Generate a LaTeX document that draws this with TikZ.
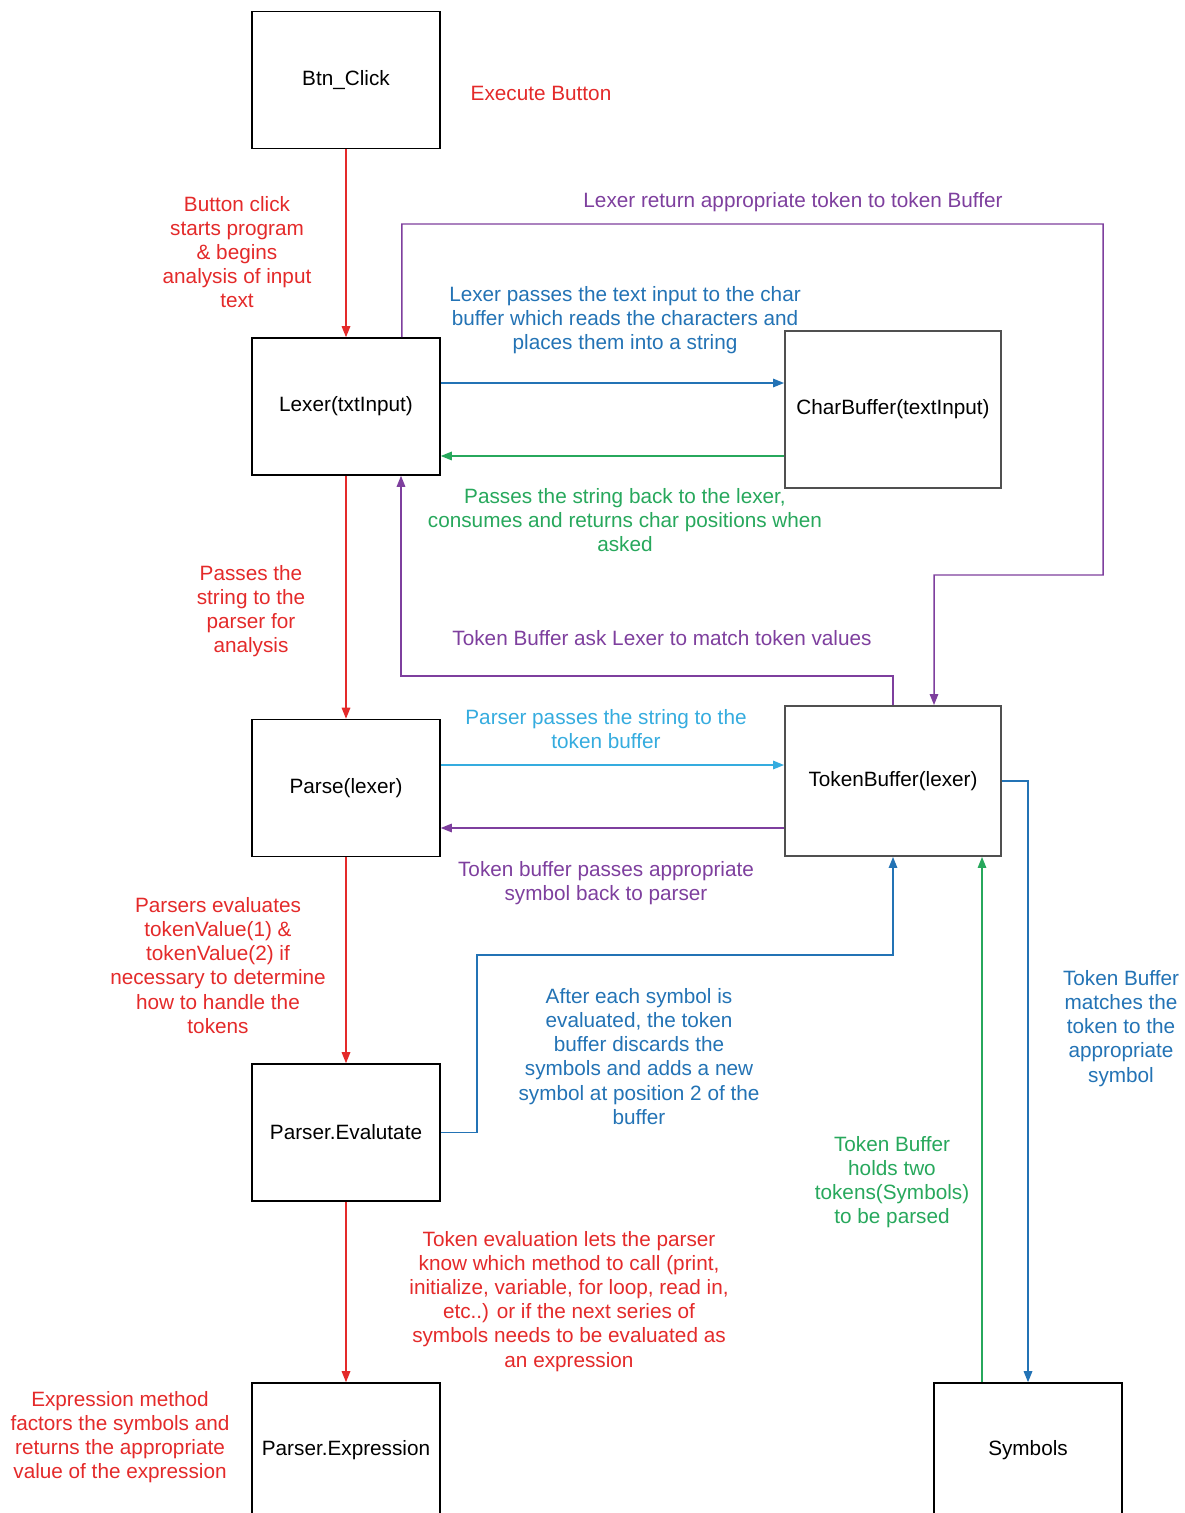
\documentclass[tikz,border=0pt]{standalone}
\usepackage{fontspec}
\setmainfont{Liberation Sans}
\usetikzlibrary{arrows.meta,calc}
\definecolor{cred}{HTML}{E42A2A}
\definecolor{cpurple}{HTML}{7E3F9E}
\definecolor{cblue}{HTML}{2373B5}
\definecolor{clblue}{HTML}{35ACDF}
\definecolor{cgreen}{HTML}{27A85C}
\definecolor{cgrey}{HTML}{505050}
\begin{document}
\begin{tikzpicture}[x=0.02cm,y=-0.02cm,
  font=\fontsize{11.8}{13.7}\selectfont,
  box/.style={draw=black,line width=0.9pt,fill=white,inner sep=2pt,minimum width=3.76cm,minimum height=2.74cm},
  wbox/.style={draw=cgrey,line width=1.1pt,fill=white,inner sep=2pt,minimum width=4.32cm},
  lbl/.style={align=center,inner sep=1pt,yshift=-0.04cm},
  conn/.style={line width=0.85pt,-{Triangle[length=2.2mm,width=1.7mm]}},
  redc/.style={conn,draw=cred},
  purc/.style={conn,draw=cpurple},
  bluc/.style={conn,draw=cblue},
  lbluc/.style={conn,draw=clblue},
  grnc/.style={conn,draw=cgreen}]
\useasboundingbox[fill=white] (0,0) rectangle (1185,1513);
% boxes
\node[box] (btn) at (346,80) {Btn\_Click};
\node[box] (lexer) at (346,406.5) {Lexer(txtInput)};
\node[wbox,minimum height=3.14cm] (charbuf) at (893,409.5) {CharBuffer(textInput)};
\node[box] (parse) at (346,788) {Parse(lexer)};
\node[wbox,minimum height=3.0cm] (tokbuf) at (893,781) {TokenBuffer(lexer)};
\node[box] (eval) at (346,1132.5) {Parser.Evalutate};
\node[box] (expr) at (346,1451.5) {};
\node (exprt) at (346,1450) {Parser.Expression};
\node[box] (symbols) at (1028,1451.5) {};
\node (symt) at (1028,1450) {Symbols};
% helper coordinates
\coordinate (lx) at ([xshift=1.12cm]lexer.north);
\coordinate (lb) at ([xshift=1.10cm]lexer.south);
\coordinate (tbn) at ([xshift=0.82cm]tokbuf.north);
\coordinate (l1) at ([yshift=0.47cm]lexer.east);
\coordinate (c1) at ([yshift=-0.93cm]charbuf.west);
\coordinate (p1) at ([yshift=0.46cm]parse.east);
\coordinate (t1) at ([yshift=-0.94cm]tokbuf.west);
\coordinate (s1) at ([xshift=-0.92cm]symbols.north);
% connectors
\draw[redc] (btn.south) -- (lexer.north);
\draw[redc] (lexer.south) -- (parse.north);
\draw[redc] (parse.south) -- (eval.north);
\draw[redc] (eval.south) -- (expr.north);
\draw[bluc] (l1) -- (l1 -| charbuf.west);
\draw[grnc] (c1) -- (c1 -| lexer.east);
\draw[purc] (lx) |- (1103,224) |- (934,575) -- (tbn);
\draw[purc] (tokbuf.north) -- ++(0,-29) -| (lb);
\draw[lbluc] (p1) -- (p1 -| tokbuf.west);
\draw[purc] (t1) -- (t1 -| parse.east);
\draw[bluc] (eval.east) -| (477,955) -| (tokbuf.south);
\draw[grnc] (s1) -- (s1 |- tokbuf.south);
\draw[bluc] (tokbuf.east) -| (symbols.north);
% labels
\node[lbl,text=cred] (l-exec) at (541,91) {Execute Button};
\node[lbl,text=cred] (l-btn) at (237,250) {Button click\\starts program\\\& begins\\analysis of input\\text};
\node[lbl,text=cpurple] (l-lexret) at (793,200) {Lexer return appropriate token to token Buffer};
\node[lbl,text=cblue] (l-lexpass) at (625,318.5) {Lexer passes the text input to the char\\buffer which reads the characters and\\places them into a string};
\node[lbl,text=cgreen] (l-back) at (625,518.5) {Passes the string back to the lexer,\\consumes and returns char positions when\\asked};
\node[lbl,text=cred] (l-pstr) at (251,609) {Passes the\\string to the\\parser for\\analysis};
\node[lbl,text=cpurple] (l-ask) at (662,636) {Token Buffer ask Lexer to match token values};
\node[lbl,text=clblue] (l-ppass) at (606,727) {Parser passes the string to the\\token buffer};
\node[lbl,text=cpurple] (l-tbpass) at (606,881) {Token buffer passes appropriate\\symbol back to parser};
\node[lbl,text=cred] (l-peval) at (218,963.5) {Parsers evaluates\\tokenValue(1) \&\\tokenValue(2) if\\necessary to determine\\how to handle the\\tokens};
\node[lbl,text=cblue] (l-after) at (639,1054.5) {After each symbol is\\evaluated, the token\\buffer discards the\\symbols and adds a new\\symbol at position 2 of the\\buffer};
\node[lbl,text=cblue] (l-match) at (1121,1026.5) {Token Buffer\\matches the\\token to the\\appropriate\\symbol};
\node[lbl,text=cgreen] (l-hold) at (892,1180.5) {Token Buffer\\holds two\\tokens(Symbols)\\to be parsed};
\node[lbl,text=cred] (l-teval) at (569,1299.5) {Token evaluation lets the parser\\know which method to call (print,\\initialize, variable, for loop, read in,\\etc..) or if the next series of\\symbols needs to be evaluated as\\an expression};
\node[lbl,text=cred] (l-expr) at (120,1435.5) {Expression method\\factors the symbols and\\returns the appropriate\\value of the expression};
\end{tikzpicture}
\end{document}
